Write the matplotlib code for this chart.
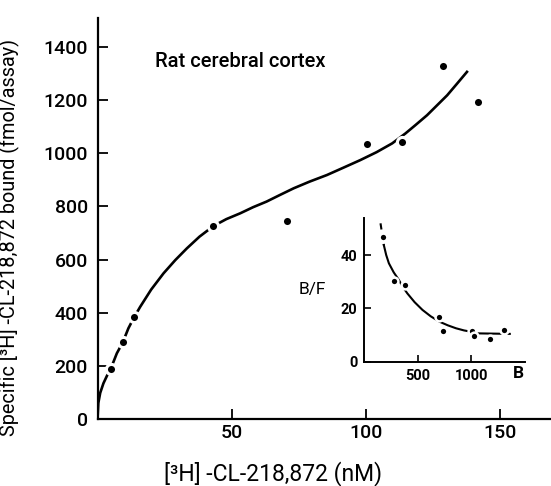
import matplotlib
matplotlib.use('Agg')
import matplotlib.pyplot as plt

plt.rcParams['font.family'] = ['Roboto', 'Liberation Sans', 'DejaVu Sans']
plt.rcParams['font.weight'] = 'medium'

# saturation data: free ligand (nM) vs specific binding (fmol/assay)
conc = [4.9, 9.4, 13.6, 43.2, 70.6, 100.4, 113.5, 128.7, 141.9]
bound = [188, 288, 382, 726, 745, 1033, 1043, 1329, 1192]

# hand-drawn fit through the saturation data
fit_x = [0, 0.3, 1.0, 2.2, 3.5, 4.9, 7.2, 9.4, 11.5, 13.6, 15.9, 20.0,
         24.6, 29.0, 33.3, 38.0, 43.2, 48.0, 53.2, 58.0, 63.0, 68.0,
         73.1, 79.0, 85.5, 91.5, 97.9, 104.0, 109.8, 114.7, 118.5,
         122.8, 126.5, 130.3, 134.0, 138.0]
fit_y = [0, 60, 98, 134, 162, 188, 247, 288, 341, 382, 422, 487,
         548, 598, 642, 686, 726, 752, 774, 797, 818, 843,
         868, 893, 918, 945, 974, 1004, 1037, 1074, 1106,
         1143, 1180, 1218, 1262, 1310]

# Scatchard inset: B vs B/F
sc_b = [174, 280, 380, 700, 737, 1007, 1022, 1176, 1300]
sc_bf = [46.6, 30.3, 28.8, 16.9, 11.3, 11.6, 9.6, 8.5, 11.8]

sc_fit_top_x = [152, 183]
sc_fit_top_y = [51.9, 43.7]
sc_fit_x = [183, 205, 230, 275, 324, 360, 402, 470, 543, 620, 700,
            780, 856, 930, 997, 1044, 1200, 1357]
sc_fit_y = [43.7, 40.0, 36.9, 33.5, 30.6, 28.0, 25.6, 22.3, 19.4, 17.0, 15.0,
            13.6, 12.5, 11.7, 11.2, 10.6, 10.5, 10.4]

fig = plt.figure(figsize=(5.51, 4.86), dpi=100)
ax = fig.add_axes([0.177, 0.138, 0.823, 0.825])

ax.plot(fit_x, fit_y, color='black', lw=1.9, solid_capstyle='butt',
        solid_joinstyle='round', zorder=2)
ax.plot(conc, bound, 'o', color='black', ms=7.3, mec='white', mew=2.2,
        zorder=3, clip_on=False)

ax.set_xlim(0, 169)
ax.set_ylim(0, 1509)
ax.set_xticks([50, 100, 150])
ax.set_yticks(range(0, 1401, 200))
for s in ('top', 'right'):
    ax.spines[s].set_visible(False)
for s in ('left', 'bottom'):
    ax.spines[s].set_linewidth(1.6)
ax.tick_params(axis='both', direction='in', length=7, width=1.3,
               labelsize=14)
ax.tick_params(axis='y', pad=7)
ax.tick_params(axis='x', pad=4)

ax.set_ylabel('Specific [³H] -CL-218,872 bound (fmol/assay)', fontsize=14.3)
ax.yaxis.set_label_coords(-0.17, 0.453)
ax.set_xlabel('[³H] -CL-218,872 (nM)', fontsize=16.5)
ax.xaxis.set_label_coords(0.388, -0.105)

ax.text(21.5, 1346, 'Rat cerebral cortex', fontsize=14.5, ha='left',
        va='center')

# Scatchard inset
ins = fig.add_axes([0.661, 0.256, 0.292, 0.296])
ins.plot(sc_fit_top_x, sc_fit_top_y, color='black', lw=1.5, ls=(0, (3, 2)))
ins.plot(sc_fit_x, sc_fit_y, color='black', lw=1.5, zorder=2)
ins.plot(sc_b, sc_bf, 'o', color='black', ms=5.6, mec='white', mew=1.8,
         zorder=3, clip_on=False)
ins.set_xlim(0, 1500)
ins.set_ylim(0, 54)
ins.set_xticks([500, 1000])
ins.set_yticks([0, 20, 40])
for s in ('top', 'right'):
    ins.spines[s].set_visible(False)
for s in ('left', 'bottom'):
    ins.spines[s].set_linewidth(1.4)
ins.tick_params(axis='both', direction='in', length=5, width=1.2,
                labelsize=10.5)
for lab in ins.get_xticklabels() + ins.get_yticklabels():
    lab.set_fontweight('bold')
ins.tick_params(axis='y', pad=5)
ins.tick_params(axis='x', pad=5)
ins.set_ylabel('B/F', rotation=0, fontsize=12.5, ha='center', va='center')
ins.yaxis.set_label_coords(-0.32, 0.5)
ins.text(1440, -4.6, 'B', fontsize=12.5, fontweight='bold', ha='center',
         va='center', clip_on=False)

fig.savefig('out.png', dpi=100)
